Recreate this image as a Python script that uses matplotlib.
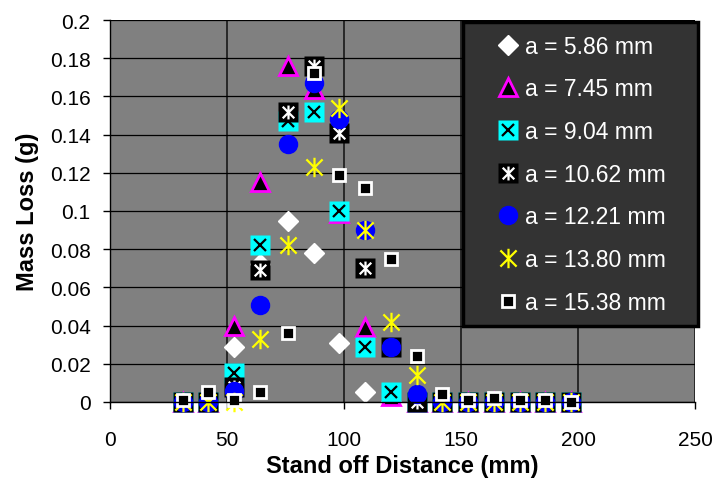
import matplotlib
matplotlib.use('Agg')
import matplotlib.pyplot as plt
from matplotlib.path import Path
from matplotlib.ticker import FuncFormatter, MultipleLocator

plt.rcParams['font.family'] = ['Liberation Sans', 'DejaVu Sans']

# Stand off distance (mm), shared by every series
distance = [31, 42, 53, 64, 76, 87, 98, 109, 120, 131, 142, 153, 164, 175, 186, 197]

# Mass loss (g) for each jet size a
loss_586 = [0, 0, 0.029, 0.072, 0.095, 0.078, 0.031, 0.005, 0, 0, 0, 0, 0, 0, 0, 0]
loss_745 = [0, 0, 0.040, 0.115, 0.176, 0.164, 0.099, 0.039, 0.003, 0, 0, 0, 0, 0, 0, 0]
loss_904 = [0, 0, 0.015, 0.082, 0.147, 0.152, 0.100, 0.029, 0.005, 0, 0, 0, 0, 0, 0, 0]
loss_1062 = [0, 0, 0.008, 0.069, 0.152, 0.176, 0.141, 0.070, 0.029, 0, 0, 0, 0, 0, 0, 0]
loss_1221 = [0, 0, 0.006, 0.051, 0.135, 0.167, 0.148, 0.090, 0.029, 0.004, 0, 0, 0, 0, 0, 0]
loss_1380 = [0, 0, 0, 0.033, 0.082, 0.123, 0.154, 0.090, 0.042, 0.014, 0, 0, 0, 0, 0, 0]
loss_1538 = [0.001, 0.005, 0.001, 0.005, 0.036, 0.172, 0.119, 0.112, 0.075, 0.024,
             0.004, 0.001, 0.002, 0.001, 0.001, 0]

labels = ['a = 5.86 mm', 'a = 7.45 mm', 'a = 9.04 mm', 'a = 10.62 mm',
          'a = 12.21 mm', 'a = 13.80 mm', 'a = 15.38 mm']

# Excel style star: an X with a vertical bar through it
star = Path([(-1, -1), (1, 1), (-1, 1), (1, -1), (0, -1.2), (0, 1.2)],
            [Path.MOVETO, Path.LINETO, Path.MOVETO, Path.LINETO, Path.MOVETO, Path.LINETO])

fig = plt.figure(figsize=(7.18, 4.85), dpi=100)
ax = fig.add_axes([0.1532, 0.1691, 0.8148, 0.7876])
ax.set_facecolor('#808080')

kw = dict(ls='none', clip_on=False)

h1 = ax.plot(distance, loss_586, marker='D', ms=10, mfc='white', mec='white', **kw)[0]
h2 = ax.plot(distance, loss_745, marker='^', ms=13, mfc='black', mec='#ff00ff', mew=2, **kw)[0]
h3a = ax.plot(distance, loss_904, marker='s', ms=15, mfc='#00ffff', mec='none', **kw)[0]
h3b = ax.plot(distance, loss_904, marker='x', ms=9, mec='black', mew=1.6, **kw)[0]
h4a = ax.plot(distance, loss_1062, marker='s', ms=15, mfc='black', mec='none', **kw)[0]
h4b = ax.plot(distance, loss_1062, marker=star, ms=10, mfc='none', mec='white', mew=1.6, **kw)[0]
h5 = ax.plot(distance, loss_1221, marker='o', ms=13, mfc='#0000ff', mec='#0000ff', **kw)[0]
h6 = ax.plot(distance, loss_1380, marker=star, ms=14, mfc='none', mec='#ffff00', mew=1.6, **kw)[0]
h7 = ax.plot(distance, loss_1538, marker='s', ms=8, mfc='black', mec='white', mew=2, **kw)[0]

ax.set_xlim(0, 250)
ax.set_ylim(0, 0.2)
ax.xaxis.set_major_locator(MultipleLocator(50))
ax.yaxis.set_major_locator(MultipleLocator(0.02))
ax.yaxis.set_major_formatter(FuncFormatter(lambda v, p: f'{round(v, 3):g}'))

ax.set_axisbelow(True)
ax.yaxis.grid(True, color='black', lw=0.9)
ax.xaxis.grid(True, color='#282828', lw=1.4)
for s in ['top', 'right']:
    ax.spines[s].set_visible(False)
for s in ['left', 'bottom']:
    ax.spines[s].set_color('black')
    ax.spines[s].set_linewidth(1)
ax.tick_params(direction='out', length=5, width=1, labelsize=15)
ax.tick_params(axis='x', pad=15)
ax.tick_params(axis='y', pad=9)

ax.set_xlabel('Stand off Distance (mm)', fontsize=17, fontweight='bold', labelpad=4)
ax.set_ylabel('Mass Loss (g)', fontsize=17, fontweight='bold', labelpad=8)

leg = ax.legend([h1, h2, (h3a, h3b), (h4a, h4b), h5, h6, h7], labels,
                loc='upper left', bbox_to_anchor=(0.645, 0.3175, 0.327, 0.6351),
                bbox_transform=fig.transFigure, mode='expand', borderaxespad=0,
                fontsize=16.5, labelcolor='white', frameon=True, fancybox=False,
                framealpha=1, borderpad=0.55, labelspacing=0.86,
                handlelength=2.86, handletextpad=-0.7)
frame = leg.get_frame()
frame.set_facecolor('#333333')
frame.set_edgecolor('black')
frame.set_linewidth(2.5)

fig.savefig('out.png', dpi=100)
